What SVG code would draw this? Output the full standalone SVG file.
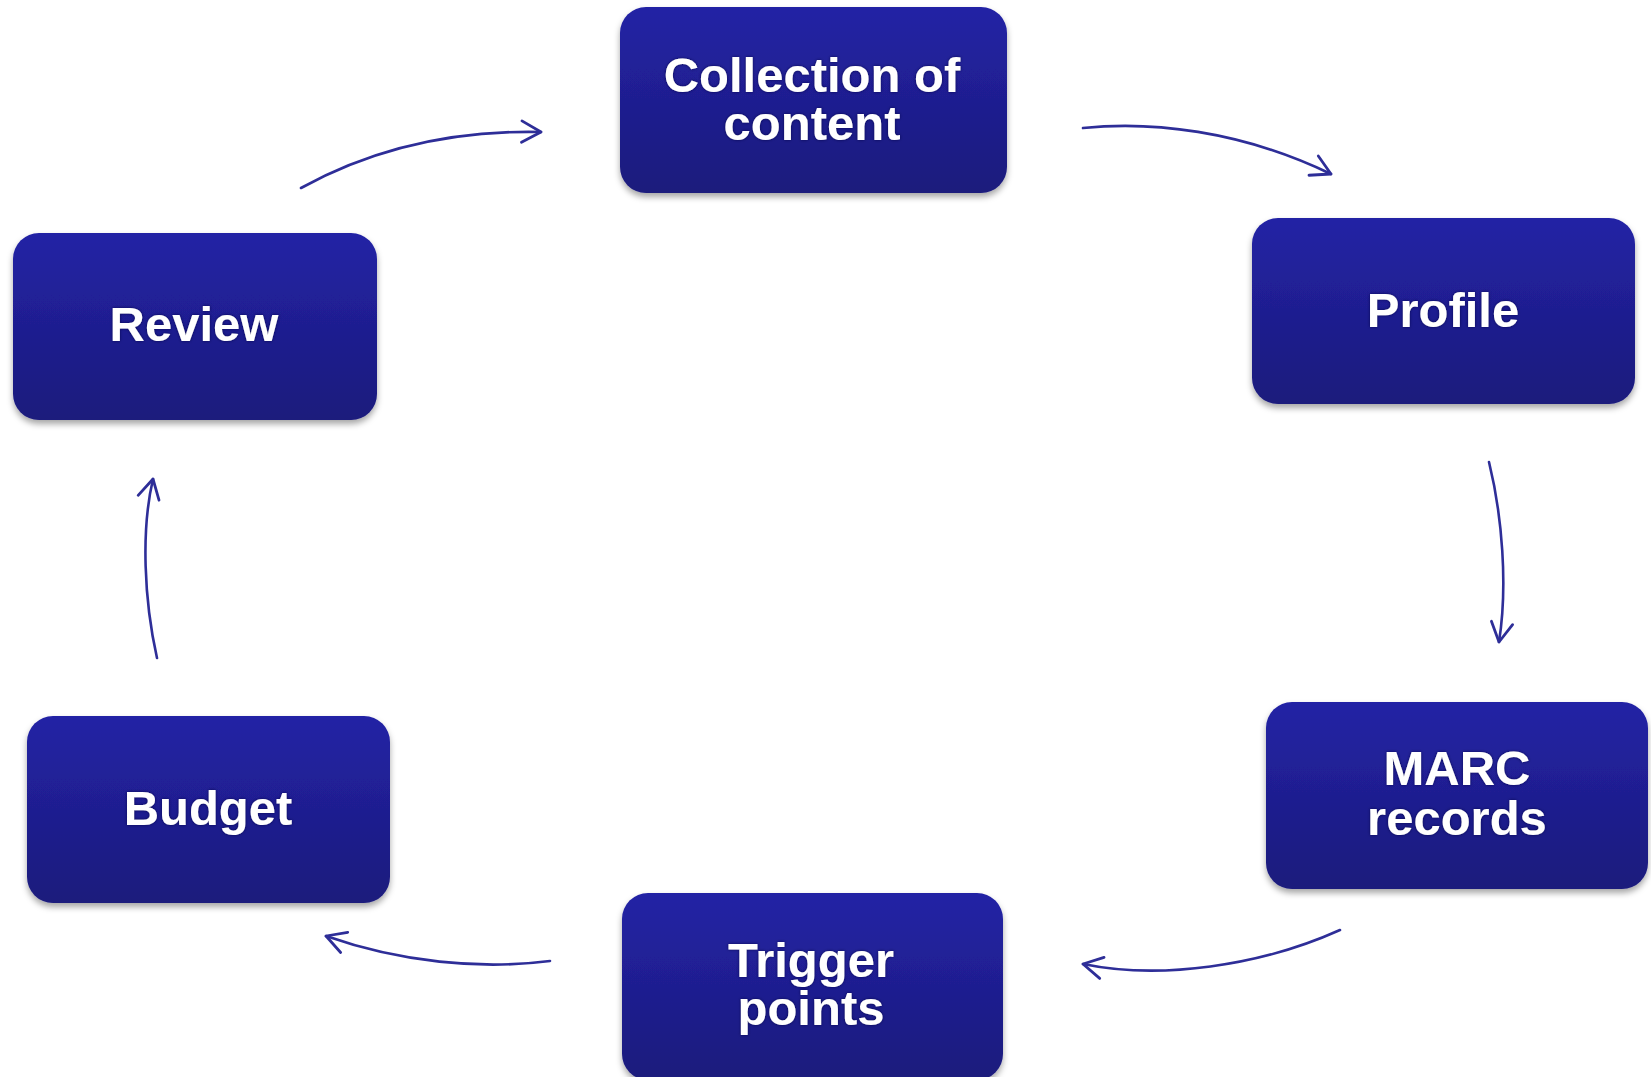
<svg xmlns="http://www.w3.org/2000/svg" width="1651" height="1077" viewBox="0 0 1651 1077">
<defs>
<linearGradient id="boxGrad" x1="0" y1="0" x2="0" y2="1">
<stop offset="0" stop-color="#2323a5"/>
<stop offset="1" stop-color="#1b1a7c"/>
</linearGradient>
<filter id="shadow" x="-10%" y="-10%" width="120%" height="130%">
<feDropShadow dx="0" dy="4" stdDeviation="3" flood-color="#000" flood-opacity="0.35"/>
</filter>
<filter id="glow" x="-10%" y="-20%" width="120%" height="140%">
<feDropShadow dx="0" dy="0" stdDeviation="1.5" flood-color="#0a0a40" flood-opacity="0.8"/>
</filter>
<marker id="arrow" markerUnits="userSpaceOnUse" markerWidth="30" markerHeight="30" refX="0" refY="0" viewBox="-22 -14 26 28" orient="auto">
<path d="M-18,-10 L0,0 L-18,10" fill="none" stroke="#2e2e98" stroke-width="2.6" stroke-linecap="round" stroke-linejoin="round"/>
</marker>
<style>
.box{fill:url(#boxGrad);filter:url(#shadow);}
.lbl{font-family:"Liberation Sans",Arial,sans-serif;font-weight:bold;font-size:49px;fill:#ffffff;text-anchor:middle;filter:url(#glow);}
.conn{fill:none;stroke:#2e2e98;stroke-width:2.6;stroke-linecap:round;marker-end:url(#arrow);}
</style>
</defs>
<rect width="1651" height="1077" fill="#ffffff"/>
<g id="connectors">
<path class="conn" d="M1083,128 C1150,121 1240,130 1331,174"/>
<path class="conn" d="M1489,462 C1502,515 1508,585 1499,642"/>
<path class="conn" d="M1340,930 C1260,966 1160,980 1083,964"/>
<path class="conn" d="M550,961 C480,970 400,962 326,936"/>
<path class="conn" d="M157,658 C144,600 141,530 153,479"/>
<path class="conn" d="M301,188 C370,150 450,130 541,132"/>
</g>
<g id="node-collection">
<rect class="box" x="620" y="7" width="387" height="186" rx="26"/>
<text class="lbl" x="812" y="92">Collection of</text>
<text class="lbl" x="812" y="140">content</text>
</g>
<g id="node-profile">
<rect class="box" x="1252" y="218" width="383" height="186" rx="26"/>
<text class="lbl" x="1443" y="327">Profile</text>
</g>
<g id="node-marc">
<rect class="box" x="1266" y="702" width="382" height="187" rx="26"/>
<text class="lbl" x="1457" y="785">MARC</text>
<text class="lbl" x="1457" y="835">records</text>
</g>
<g id="node-trigger">
<rect class="box" x="622" y="893" width="381" height="187" rx="26"/>
<text class="lbl" x="811" y="977">Trigger</text>
<text class="lbl" x="811" y="1025">points</text>
</g>
<g id="node-budget">
<rect class="box" x="27" y="716" width="363" height="187" rx="26"/>
<text class="lbl" x="208" y="825">Budget</text>
</g>
<g id="node-review">
<rect class="box" x="13" y="233" width="364" height="187" rx="26"/>
<text class="lbl" x="194" y="341">Review</text>
</g>
</svg>
